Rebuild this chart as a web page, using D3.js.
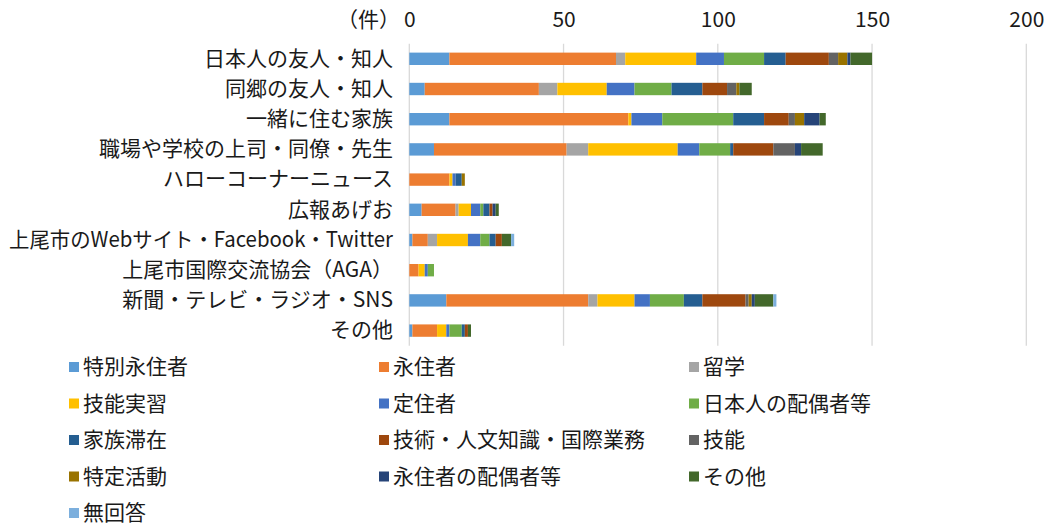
<!DOCTYPE html>
<html><head><meta charset="utf-8">
<script src="https://cdn.jsdelivr.net/npm/d3@7"></script>
<style>
html,body{margin:0;padding:0;background:#fff;}
text{font-family:"Noto Sans CJK JP","Noto Sans",sans-serif;fill:#1a1a1a;}
</style></head>
<body>
<svg id="chart" width="1050" height="526"></svg>
<script>
const categories = ["日本人の友人・知人","同郷の友人・知人","一緒に住む家族","職場や学校の上司・同僚・先生","ハローコーナーニュース","広報あげお","上尾市のWebサイト・Facebook・Twitter","上尾市国際交流協会（AGA）","新聞・テレビ・ラジオ・SNS","その他"];
const seriesNames = ["特別永住者","永住者","留学","技能実習","定住者","日本人の配偶者等","家族滞在","技術・人文知識・国際業務","技能","特定活動","永住者の配偶者等","その他","無回答"];
const seriesColors = ["#5B9BD5","#ED7D31","#A5A5A5","#FFC000","#4472C4","#70AD47","#255E91","#9E480E","#636363","#997300","#264478","#43682B","#7CAFDD"];
// values per series, in category order
const s特別永住者 = [13,5,13,8,0,4,1,0,12,1];
const s永住者 = [54,37,58,43,13,11,5,3,46,8];
const s留学 = [3,6,0,7,0,1,3,0,3,0];
const s技能実習 = [23,16,1,29,1,4,10,2,12,3];
const s定住者 = [9,9,10,7,1,3,4,1,5,1];
const s日本人の配偶者等 = [13,12,23,10,0,1,3,2,11,4];
const s家族滞在 = [7,10,10,1,2,2,2,0,6,1];
const s技術 = [14,8,8,13,0,1,2,0,14,1];
const s技能 = [3,3,2,7,0,0,0,0,1,0];
const s特定活動 = [3,1,3,0,1,0,0,0,1,0];
const s永住者の配偶者等 = [1,0,5,2,0,1,0,0,1,0];
const sその他 = [7,4,2,7,0,1,3,0,6,1];
const s無回答 = [0,0,0,0,0,0,1,0,1,0];
const tickValues = [0,50,100,150,200];
const unitLabel = "（件）";

const seriesValues = [s特別永住者,s永住者,s留学,s技能実習,s定住者,s日本人の配偶者等,s家族滞在,s技術,s技能,s特定活動,s永住者の配偶者等,sその他,s無回答];

const rows = categories.map((c,i)=>{
  const r = {cat:c};
  seriesNames.forEach((s,j)=>{ r[s]=seriesValues[j][i]; });
  return r;
});
const stacked = d3.stack().keys(seriesNames)(rows);

const svg = d3.select("#chart");
const x = d3.scaleLinear().domain([0,200]).range([409.3,1026.3]);
const y = d3.scaleBand().domain(categories).range([43.7,345.7]).paddingInner(0.59).paddingOuter(0.295);

// gridlines
svg.append("g").selectAll("line").data(tickValues).join("line")
  .attr("x1",d=>x(d)).attr("x2",d=>x(d)).attr("y1",43.7).attr("y2",345.7)
  .attr("stroke","#d9d9d9").attr("stroke-width",1.3);

// top axis labels
const ax = svg.append("g").attr("transform","translate(0,20)")
  .call(d3.axisTop(x).tickValues(tickValues).tickSize(0).tickPadding(0));
ax.select(".domain").remove();
ax.selectAll("text").attr("font-size",21).attr("dy","0.35em").attr("fill","#1a1a1a")
  .style("font-family","'Noto Sans CJK JP'");
svg.append("text").attr("x",400).attr("y",20).attr("dy","0.35em").attr("text-anchor","end")
  .attr("font-size",21).text(unitLabel);

// bars
svg.append("g").selectAll("g").data(stacked).join("g")
  .attr("fill",(d,i)=>seriesColors[i])
  .selectAll("rect").data(d=>d).join("rect")
  .attr("x",d=>x(d[0])).attr("width",d=>x(d[1])-x(d[0]))
  .attr("y",d=>y(d.data.cat)).attr("height",y.bandwidth());

// category labels
const ay = svg.append("g").attr("transform","translate(393,0)")
  .call(d3.axisLeft(y).tickSize(0).tickPadding(0));
ay.select(".domain").remove();
ay.selectAll("text").attr("font-size",21).attr("fill","#1a1a1a")
  .style("font-family","'Noto Sans CJK JP'")
  .each(function(){
    const t = d3.select(this);
    const w = this.getComputedTextLength();
    if (w > 384) t.attr("textLength",384).attr("lengthAdjust","spacingAndGlyphs");
  });

// legend
const colX = [69,379,689];
const rowY = [367,403.5,440,476.5,513];
const lg = svg.append("g").selectAll("g").data(seriesNames).join("g")
  .attr("transform",(d,i)=>`translate(${colX[i%3]},${rowY[Math.floor(i/3)]})`);
lg.append("rect").attr("x",0).attr("y",-5).attr("width",10).attr("height",10)
  .attr("fill",(d,i)=>seriesColors[i]);
lg.append("text").attr("x",14).attr("y",0).attr("dy","0.35em").attr("font-size",21).text(d=>d);
</script>
</body></html>
